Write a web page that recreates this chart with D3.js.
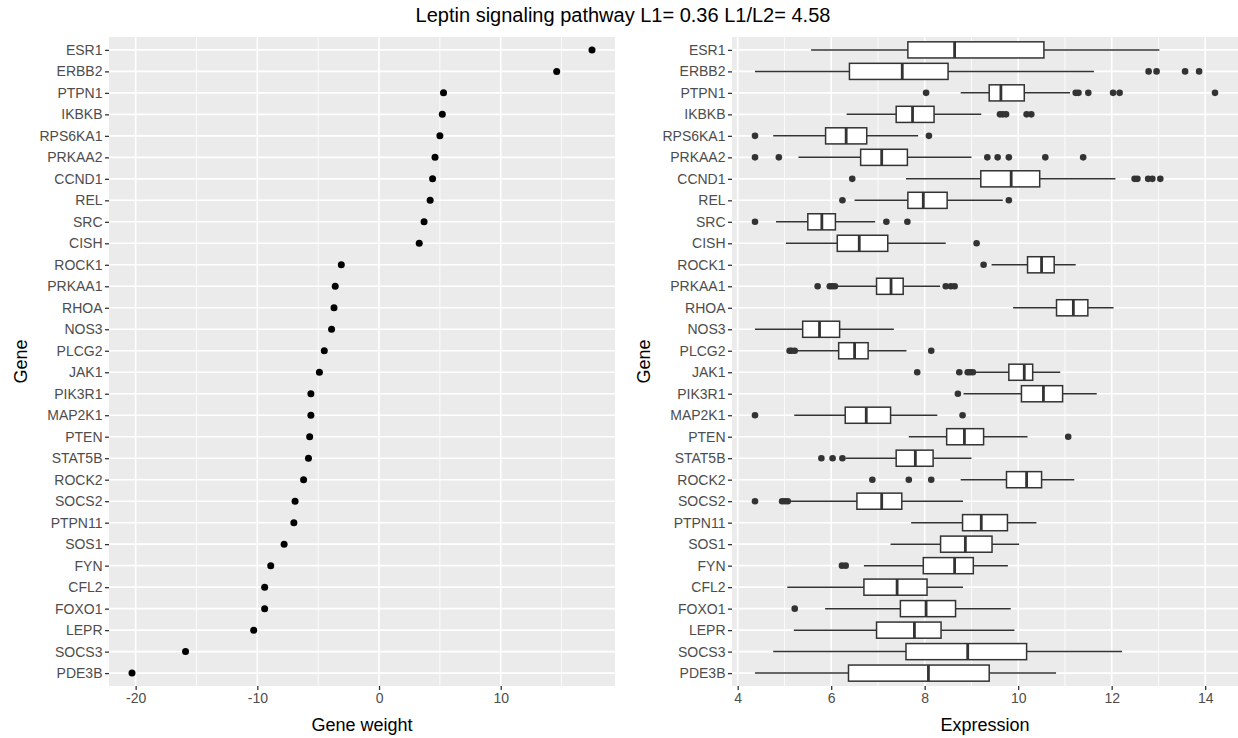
<!DOCTYPE html>
<html>
<head>
<meta charset="utf-8">
<script src="https://cdn.jsdelivr.net/npm/d3@7"></script>
<style>
  body { margin: 0; background: #fff; }
  text { font-family: "Liberation Sans", Arial, sans-serif; }
</style>
</head>
<body>
<div id="vis"></div>
<script>
var width = 1238,
    height = 738;

var genes = ["ESR1", "ERBB2", "PTPN1", "IKBKB", "RPS6KA1", "PRKAA2", "CCND1", "REL", "SRC", "CISH",
    "ROCK1", "PRKAA1", "RHOA", "NOS3", "PLCG2", "JAK1", "PIK3R1", "MAP2K1", "PTEN", "STAT5B",
    "ROCK2", "SOCS2", "PTPN11", "SOS1", "FYN", "CFL2", "FOXO1", "LEPR", "SOCS3", "PDE3B"];

var geneWeight = [17.5, 14.6, 5.3, 5.2, 5.0, 4.6, 4.4, 4.2, 3.7, 3.3,
    -3.1, -3.6, -3.7, -3.9, -4.5, -4.9, -5.6, -5.6, -5.7, -5.8,
    -6.2, -6.9, -7.0, -7.8, -8.9, -9.4, -9.4, -10.3, -15.9, -20.3];

// boxplot stats per gene (whisker low, Q1, median, Q3, whisker high)
var exprLow = [5.57, 4.37, 8.77, 6.33, 4.76, 5.30, 7.60, 6.50, 4.82, 5.03,
    9.43, 6.14, 9.89, 4.37, 5.26, 9.08, 8.83, 5.21, 7.66, 6.31,
    8.77, 5.09, 7.71, 7.27, 6.70, 5.06, 5.87, 5.20, 4.76, 4.37];
var exprQ1 = [7.64, 6.39, 9.38, 7.39, 5.88, 6.63, 9.20, 7.64, 5.50, 6.13,
    10.20, 6.97, 10.82, 5.39, 6.16, 9.80, 10.07, 6.30, 8.47, 7.39,
    9.75, 6.55, 8.81, 8.34, 7.97, 6.70, 7.48, 6.97, 7.60, 6.37];
var exprMedian = [8.64, 7.52, 9.63, 7.74, 6.32, 7.08, 9.85, 7.97, 5.80, 6.60,
    10.50, 7.28, 11.18, 5.75, 6.50, 10.13, 10.54, 6.75, 8.85, 7.80,
    10.18, 7.08, 9.21, 8.87, 8.64, 7.41, 8.03, 7.78, 8.92, 8.08];
var exprQ3 = [10.55, 8.50, 10.13, 8.20, 6.76, 7.63, 10.46, 8.48, 6.09, 7.21,
    10.77, 7.54, 11.49, 6.18, 6.79, 10.31, 10.95, 7.27, 9.26, 8.18,
    10.50, 7.51, 9.77, 9.44, 9.04, 8.05, 8.66, 8.35, 10.18, 9.38];
var exprHigh = [13.02, 11.62, 11.11, 9.21, 7.86, 9.00, 12.08, 9.67, 6.94, 8.45,
    11.23, 8.33, 12.04, 7.34, 7.61, 10.90, 11.68, 8.27, 10.20, 9.00,
    11.20, 8.82, 10.39, 10.02, 9.78, 8.82, 9.84, 9.92, 12.22, 10.81];
var exprOutliers = [
    [],
    [12.79, 12.96, 13.57, 13.87],
    [8.03, 11.23, 11.29, 11.50, 12.03, 12.17, 14.21],
    [9.61, 9.67, 9.74, 10.18, 10.28],
    [4.37, 8.09],
    [4.37, 4.88, 9.34, 9.56, 9.80, 10.58, 11.39],
    [6.45, 12.49, 12.55, 12.78, 12.87, 13.04],
    [6.24, 9.80],
    [4.37, 7.18, 7.63],
    [9.11],
    [9.26],
    [5.71, 5.97, 6.02, 6.08, 8.45, 8.56, 8.64],
    [],
    [],
    [5.11, 5.15, 5.22, 8.14],
    [7.84, 8.74, 8.92, 8.97, 9.03],
    [8.71],
    [4.37, 8.81],
    [11.07],
    [5.79, 6.03, 6.24],
    [6.88, 7.66, 8.14],
    [4.37, 4.95, 5.01, 5.07],
    [],
    [],
    [6.23, 6.31],
    [],
    [5.22],
    [],
    [],
    []
];

var weightTicks = [-20, -10, 0, 10],
    weightMinor = [-15, -5, 5, 15],
    exprTicks = [4, 6, 8, 10, 12, 14],
    exprMinor = [5, 7, 9, 11, 13];

var title = "Leptin signaling pathway L1= 0.36 L1/L2= 4.58";

var svg = d3.select('#vis').append('svg')
    .attr("width", width)
    .attr("height", height);

var panelTop = 37, panelBottom = 686;

var y = d3.scalePoint()
    .domain(genes)
    .range([panelTop, panelBottom])
    .padding(0.6);

// ggplot style 5% expansion
function expand(ext) {
    var pad = (ext[1] - ext[0]) * 0.05;
    return [ext[0] - pad, ext[1] + pad];
}

var xW = d3.scaleLinear()
    .domain(expand(d3.extent(geneWeight)))
    .range([109, 615]);

var allExpr = exprLow.concat(exprHigh, d3.merge(exprOutliers));
var xE = d3.scaleLinear()
    .domain(expand(d3.extent(allExpr)))
    .range([732, 1238]);

function drawPanel(x, major, minor, xTitle) {
    var g = svg.append("g");
    var x0 = x.range()[0], x1 = x.range()[1];

    g.append("rect")
        .attr("x", x0).attr("y", panelTop)
        .attr("width", x1 - x0).attr("height", panelBottom - panelTop)
        .attr("fill", "#ebebeb");

    g.selectAll("line.minor").data(minor).enter().append("line")
        .attr("x1", x).attr("x2", x)
        .attr("y1", panelTop).attr("y2", panelBottom)
        .attr("stroke", "#fff").attr("stroke-width", 0.8);

    g.selectAll("line.vmajor").data(major).enter().append("line")
        .attr("x1", x).attr("x2", x)
        .attr("y1", panelTop).attr("y2", panelBottom)
        .attr("stroke", "#fff").attr("stroke-width", 1.6);

    g.selectAll("line.hmajor").data(genes).enter().append("line")
        .attr("x1", x0).attr("x2", x1)
        .attr("y1", function(d) { return y(d); })
        .attr("y2", function(d) { return y(d); })
        .attr("stroke", "#fff").attr("stroke-width", 1.6);

    var xAxis = g.append("g")
        .attr("transform", "translate(0," + panelBottom + ")")
        .call(d3.axisBottom(x).tickValues(major).tickSize(4).tickPadding(3)
            .tickFormat(function(d) { return String(d); }));
    var yAxis = g.append("g")
        .attr("transform", "translate(" + x0 + ",0)")
        .call(d3.axisLeft(y).tickSize(4).tickPadding(2.5));

    [xAxis, yAxis].forEach(function(a) {
        a.attr("font-size", null).attr("font-family", null);
        a.select(".domain").remove();
        a.selectAll(".tick line").attr("stroke", "#333333").attr("stroke-width", 1.3);
        a.selectAll(".tick text")
            .attr("fill", "#4d4d4d")
            .style("font-size", "14px");
    });

    g.append("text")
        .attr("x", (x0 + x1) / 2).attr("y", 731)
        .attr("text-anchor", "middle")
        .style("font-size", "18px")
        .text(xTitle);

    g.append("text")
        .attr("transform", "translate(" + (x0 - 82) + "," + ((panelTop + panelBottom) / 2) + ") rotate(-90)")
        .attr("text-anchor", "middle")
        .style("font-size", "18px")
        .text("Gene");

    return g;
}

var left = drawPanel(xW, weightTicks, weightMinor, "Gene weight");
var right = drawPanel(xE, exprTicks, exprMinor, "Expression");

left.selectAll("circle.wt")
    .data(genes)
    .enter()
    .append("circle")
    .attr("class", "wt")
    .attr("cx", function(d, i) { return xW(geneWeight[i]); })
    .attr("cy", function(d) { return y(d); })
    .attr("r", 3.5)
    .attr("fill", "#000");

var boxH = y.step() * 0.75;

var box = right.selectAll("g.box")
    .data(genes)
    .enter()
    .append("g")
    .attr("class", "box")
    .attr("transform", function(d) { return "translate(0," + y(d) + ")"; });

box.append("line")
    .attr("x1", function(d, i) { return xE(exprLow[i]); })
    .attr("x2", function(d, i) { return xE(exprHigh[i]); })
    .attr("stroke", "#333333").attr("stroke-width", 1.5);

box.append("rect")
    .attr("x", function(d, i) { return xE(exprQ1[i]); })
    .attr("width", function(d, i) { return xE(exprQ3[i]) - xE(exprQ1[i]); })
    .attr("y", -boxH / 2)
    .attr("height", boxH)
    .attr("fill", "#fff")
    .attr("stroke", "#333333").attr("stroke-width", 1.5);

box.append("line")
    .attr("x1", function(d, i) { return xE(exprMedian[i]); })
    .attr("x2", function(d, i) { return xE(exprMedian[i]); })
    .attr("y1", -boxH / 2).attr("y2", boxH / 2)
    .attr("stroke", "#333333").attr("stroke-width", 2.8);

box.selectAll("circle")
    .data(function(d, i) { return exprOutliers[i]; })
    .enter()
    .append("circle")
    .attr("cx", function(v) { return xE(v); })
    .attr("r", 3.3)
    .attr("fill", "#333333");

svg.append("text")
    .attr("x", 623).attr("y", 22)
    .attr("text-anchor", "middle")
    .style("font-size", "20px")
    .text(title);
</script>
</body>
</html>
